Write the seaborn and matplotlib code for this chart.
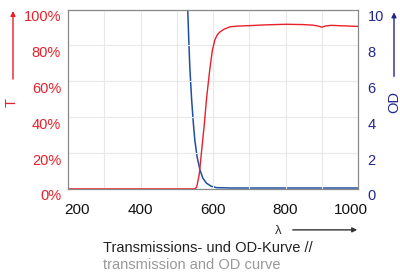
import numpy as np
import pandas as pd
import matplotlib
matplotlib.use("Agg")
import matplotlib.pyplot as plt
import matplotlib.transforms as mtransforms
import seaborn as sns

# transmission curve (T, %)
wl_t = [200, 300, 400, 500, 550, 555, 562, 569, 576, 582, 588, 592, 598, 605, 612,
        619, 630, 647, 670, 697, 750, 803, 850, 876, 890, 900, 910, 925, 950, 1000]
t_pct = [0, 0, 0, 0, 0, 1, 8, 22, 36, 50, 61, 68, 77, 83, 86,
         87.5, 89, 90.4, 90.8, 91, 91.5, 91.8, 91.6, 91.3, 90.8, 90.2, 90.8, 91.2, 91, 90.6]

# optical density curve (OD)
wl_od = [520, 530, 533, 536, 541, 546, 550, 556, 564, 572, 582, 595, 610, 650, 700, 800, 900, 1000]
od = [13, 10.2, 8.4, 6.8, 5.0, 3.6, 2.7, 1.8, 1.06, 0.6, 0.32, 0.15, 0.07, 0.05, 0.05, 0.05, 0.05, 0.05]

x_labels = [200, 400, 600, 800, 1000]
t_ticks = [0, 20, 40, 60, 80, 100]
od_ticks = [0, 2, 4, 6, 8, 10]

RED = "#e8202a"
NAVY = "#22268c"
BLUE = "#1f4fa0"

sns.set_style("white")
plt.rcParams["font.family"] = ["Liberation Sans", "DejaVu Sans"]

df_t = pd.DataFrame({"wl": wl_t, "T": t_pct})
df_od = pd.DataFrame({"wl": wl_od, "OD": od})

fig = plt.figure(figsize=(4, 2.73), dpi=100)
ax = fig.add_axes([0.17, 0.308, 0.725, 0.657])
ax2 = ax.twinx()

sns.lineplot(data=df_od, x="wl", y="OD", ax=ax2, color=BLUE, linewidth=1.1)
sns.lineplot(data=df_t, x="wl", y="T", ax=ax, color=RED, linewidth=1.0)
ax.set_zorder(ax2.get_zorder() + 1)
ax.patch.set_visible(False)

ax.set_xlim(200, 1000)
ax.set_ylim(0, 100)
ax2.set_ylim(0, 10)
ax.set_xticks(x_labels)
ax.set_xticks(range(200, 1001, 100), minor=True)
ax.set_yticks(t_ticks)
ax.set_yticklabels([f"{v}%" for v in t_ticks])
ax2.set_yticks(od_ticks)
ax.set_xlabel("")
ax.set_ylabel("")
ax2.set_xlabel("")
ax2.set_ylabel("")

ax.grid(True, which="both", color="#e8e8e8", linewidth=0.8)
ax.tick_params(axis="x", which="both", direction="out", length=4, color="#777777",
               labelsize=11, pad=6, labelcolor="#111111")
ax.tick_params(axis="y", length=0, labelcolor=RED, labelsize=10.5, pad=5)
ax2.tick_params(axis="y", length=0, labelcolor=NAVY, labelsize=10.5, pad=7)

# labels sit slightly below their grid lines
shift = mtransforms.ScaledTranslation(0, -6 / 100, fig.dpi_scale_trans)
for lab in ax.get_yticklabels() + ax2.get_yticklabels():
    lab.set_transform(lab.get_transform() + shift)

# outer x labels are pulled inward a little
xlabs = ax.get_xticklabels()
xlabs[0].set_transform(xlabs[0].get_transform()
                       + mtransforms.ScaledTranslation(9 / 100, 0, fig.dpi_scale_trans))
xlabs[-1].set_transform(xlabs[-1].get_transform()
                        + mtransforms.ScaledTranslation(-7 / 100, 0, fig.dpi_scale_trans))

for a in (ax, ax2):
    for s in a.spines.values():
        s.set_color("#888888")
        s.set_linewidth(0.8)
ax2.spines["top"].set_color("#555555")

# axis captions with arrows
fig.text(0.03, 0.625, "T", color=RED, rotation=90, fontsize=10.5, ha="center", va="center")
fig.add_artist(matplotlib.patches.FancyArrowPatch((0.0325, 0.70), (0.0325, 0.97),
               transform=fig.transFigure, arrowstyle="-|>", mutation_scale=7, color=RED, lw=1))
fig.text(0.985, 0.625, "OD", color=NAVY, rotation=90, fontsize=10.5, ha="center", va="center")
fig.add_artist(matplotlib.patches.FancyArrowPatch((0.985, 0.71), (0.985, 0.965),
               transform=fig.transFigure, arrowstyle="-|>", mutation_scale=7, color=NAVY, lw=1))
fig.text(0.695, 0.155, "λ", color="#333333", fontsize=9.5, ha="center", va="center")
fig.add_artist(matplotlib.patches.FancyArrowPatch((0.725, 0.158), (0.9, 0.158),
               transform=fig.transFigure, arrowstyle="-|>", mutation_scale=7, color="#333333", lw=1))

fig.text(0.258, 0.09, "Transmissions- und OD-Kurve //", color="#222222", fontsize=10.5,
         ha="left", va="center")
fig.text(0.258, 0.028, "transmission and OD curve", color="#999999", fontsize=10.5,
         ha="left", va="center")

fig.savefig("out.png", dpi=100)
